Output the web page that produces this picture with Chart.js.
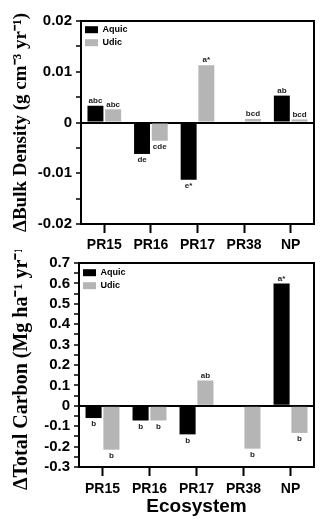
<!DOCTYPE html>
<html>
<head>
<meta charset="utf-8">
<script src="https://cdn.jsdelivr.net/npm/chart.js@4.4.0/dist/chart.umd.min.js"></script>
<style>
  body { margin: 0; background: #fff; }
  canvas { position: absolute; left: 0; }
  #bulkChart { top: 0; }
  #carbonChart { top: 250px; }
</style>
</head>
<body>
<canvas id="bulkChart" width="326" height="256"></canvas>
<canvas id="carbonChart" width="326" height="277"></canvas>
<script>
const ecosystems = ['PR15', 'PR16', 'PR17', 'PR38', 'NP'];

// change in bulk density (g cm-3 yr-1)
const bulkAquic = [0.0033, -0.0062, -0.0113, null, 0.0053];
const bulkUdic = [0.0026, -0.0036, 0.0113, 0.0007, 0.0006];
const bulkAquicLetters = ['abc', 'de', 'e*', '', 'ab'];
const bulkUdicLetters = ['abc', 'cde', 'a*', 'bcd', 'bcd'];
const bulkTickLabels = ['-0.02', '-0.01', '0', '0.01', '0.02'];

// change in total carbon (Mg ha-1 yr-1)
const carbonAquic = [-0.06, -0.072, -0.14, null, 0.60];
const carbonUdic = [-0.215, -0.072, 0.124, -0.21, -0.133];
const carbonAquicLetters = ['b', 'b', 'b', '', 'a*'];
const carbonUdicLetters = ['b', 'b', 'ab', 'b', 'b'];
const carbonTickLabels = ['-0.3', '-0.2', '-0.1', '0', '0.1', '0.2', '0.3', '0.4', '0.5', '0.6', '0.7'];

const AQUIC = '#000000';
const UDIC = '#b5b5b5';

// box round the plot area
const framePlugin = {
  id: 'frame',
  afterDraw(chart) {
    const a = chart.chartArea;
    const ctx = chart.ctx;
    ctx.save();
    ctx.strokeStyle = '#000';
    ctx.lineWidth = 2;
    ctx.strokeRect(a.left, a.top, a.right - a.left, a.bottom - a.top);
    ctx.restore();
  }
};

// significance letters above / below each bar
const lettersPlugin = {
  id: 'letters',
  afterDatasetsDraw(chart) {
    const ctx = chart.ctx;
    ctx.save();
    ctx.font = 'bold 8px "Liberation Sans", Arial, sans-serif';
    ctx.fillStyle = '#222';
    ctx.textAlign = 'center';
    chart.data.datasets.forEach((ds, i) => {
      const meta = chart.getDatasetMeta(i);
      meta.data.forEach((bar, j) => {
        const txt = ds.letters[j];
        const v = ds.data[j];
        if (!txt || v === null) return;
        if (v >= 0) {
          ctx.textBaseline = 'bottom';
          ctx.fillText(txt, bar.x, bar.y - 1);
        } else {
          ctx.textBaseline = 'top';
          ctx.fillText(txt, bar.x, bar.y + 2);
        }
      });
    });
    ctx.restore();
  }
};

function makeChart(id, opts) {
  const ctx = document.getElementById(id).getContext('2d');
  return new Chart(ctx, {
    type: 'bar',
    data: {
      labels: ecosystems,
      datasets: [
        { label: 'Aquic', data: opts.aquic, letters: opts.aquicLetters, backgroundColor: AQUIC },
        { label: 'Udic', data: opts.udic, letters: opts.udicLetters, backgroundColor: UDIC }
      ]
    },
    options: {
      responsive: false,
      animation: false,
      categoryPercentage: 0.76,
      barPercentage: 0.9,
      layout: { padding: { top: opts.padTop, right: 12, left: 0, bottom: 0 } },
      plugins: {
        legend: {
          position: 'chartArea',
          align: 'start',
          // empty title only pushes the entries down inside the plot
          title: { display: true, text: '', font: { size: 1 }, padding: { top: opts.legendTop, bottom: 0 } },
          labels: {
            boxWidth: 13,
            boxHeight: 7,
            padding: 4,
            color: '#000',
            font: { family: '"Liberation Sans", Arial, sans-serif', size: 9, weight: 'bold' }
          }
        },
        tooltip: { enabled: false }
      },
      scales: {
        x: {
          afterFit: s => { s.height = opts.xHeight; },
          border: { color: '#000', width: 2 },
          grid: { drawOnChartArea: false, offset: false, tickLength: 9, tickColor: '#000', tickWidth: 2 },
          ticks: {
            color: '#000',
            padding: opts.xPad,
            font: { family: '"Liberation Sans", Arial, sans-serif', size: 14, weight: 'bold' }
          },
          title: {
            display: !!opts.xTitle,
            text: opts.xTitle || '',
            color: '#000',
            padding: { top: 0, bottom: 9 },
            font: { family: '"Liberation Sans", Arial, sans-serif', size: 19, weight: 'bold' }
          }
        },
        y: {
          min: opts.min,
          max: opts.max,
          afterFit: s => { s.width = opts.yWidth; },
          border: { color: '#000', width: 2 },
          grid: {
            drawOnChartArea: true,
            color: c => (c.tick && Math.abs(c.tick.value) < 1e-9) ? '#000' : 'rgba(0,0,0,0)',
            lineWidth: 2,
            tickColor: '#000',
            tickLength: 5,
            tickWidth: 1.5
          },
          ticks: {
            stepSize: opts.step,
            autoSkip: false,
            color: '#000',
            padding: 4,
            font: { family: '"Liberation Sans", Arial, sans-serif', size: 15, weight: 'bold' },
            callback: v => {
              const hit = opts.tickLabels.find(t => Math.abs(Number(t) - v) < 1e-9);
              return hit === undefined ? '' : hit;
            }
          },
          title: {
            display: true,
            text: opts.yTitle,
            color: '#000',
            padding: { top: 10 },
            font: { family: '"Liberation Serif", "Times New Roman", serif', size: opts.yTitleSize, weight: 'bold' }
          }
        }
      }
    },
    plugins: [framePlugin, lettersPlugin]
  });
}

makeChart('bulkChart', {
  aquic: bulkAquic, udic: bulkUdic,
  aquicLetters: bulkAquicLetters, udicLetters: bulkUdicLetters,
  tickLabels: bulkTickLabels,
  min: -0.02, max: 0.02, step: 0.005,
  yTitle: 'ΔBulk Density (g cm⁻³ yr⁻¹)', yTitleSize: 19,
  padTop: 21, xHeight: 32, xPad: 4, yWidth: 81, legendTop: 20
});

makeChart('carbonChart', {
  aquic: carbonAquic, udic: carbonUdic,
  aquicLetters: carbonAquicLetters, udicLetters: carbonUdicLetters,
  tickLabels: carbonTickLabels,
  min: -0.3, max: 0.7, step: 0.05,
  yTitle: 'ΔTotal Carbon (Mg ha⁻¹ yr⁻¹)', yTitleSize: 20,
  xTitle: 'Ecosystem',
  padTop: 12, xHeight: 60, xPad: 5, yWidth: 79, legendTop: 13
});
</script>
</body>
</html>
